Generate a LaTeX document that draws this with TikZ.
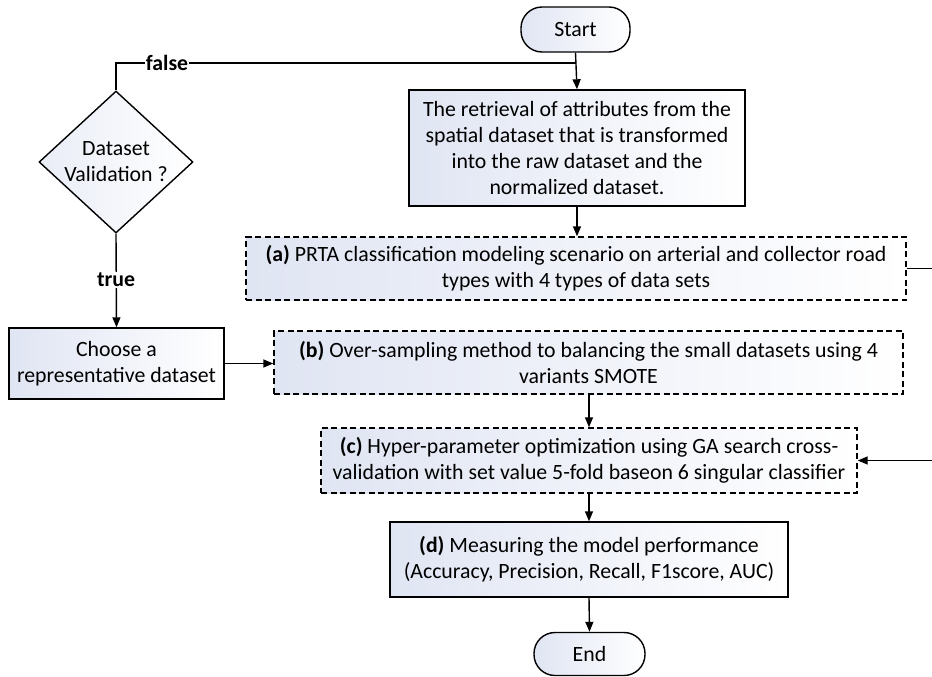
\documentclass[tikz,border=0pt]{standalone}
\usepackage{fontspec}
\setmainfont{Carlito}
\usetikzlibrary{shapes.geometric,arrows.meta}
\definecolor{boxshade}{RGB}{224,229,243}
\tikzset{
  txt/.style={font=\fontsize{21.8}{26}\selectfont, align=center, text=black},
  solidbox/.style={txt, draw=black, line width=1.4pt, rectangle, inner sep=0pt, left color=boxshade, right color=white},
  dashbox/.style={solidbox, dash pattern=on 6pt off 3.5pt},
  pill/.style={solidbox, rounded corners=21pt},
  decision/.style={diamond, draw=black, line width=1.4pt, inner sep=0pt, left color=boxshade!70, right color=white},
  conn/.style={line width=1.4pt, draw=black},
  arr/.style={conn, -{Triangle[length=10pt,width=8pt]}},
  lbl/.style={txt, font=\fontsize{21.8}{26}\selectfont\bfseries, fill=white, inner sep=1pt}
}
\begin{document}
\begin{tikzpicture}[x=1pt,y=-1pt]
\useasboundingbox (0,0) rectangle (932,677);
\node[pill, minimum width=109pt, minimum height=45pt] (start) at (575.5,29.5) {Start};
\node[solidbox, minimum width=336pt, minimum height=116pt] (ret) at (577,148)
  {The retrieval of attributes from the\\spatial dataset that is transformed\\into the raw dataset and the\\normalized dataset.};
\node[dashbox, minimum width=660pt, minimum height=63pt] (a) at (576,268.5)
  {\textbf{(a)} PRTA classification modeling scenario on arterial and collector road\\types with 4 types of data sets};
\node[dashbox, minimum width=629pt, minimum height=63pt] (b) at (588.5,362.5)
  {\textbf{(b)} Over-sampling method to balancing the small datasets using 4\\variants SMOTE};
\node[dashbox, minimum width=536pt, minimum height=65pt] (c) at (589,460.5)
  {\textbf{(c)} Hyper-parameter optimization using GA search cross-\\validation with set value 5-fold baseon 6 singular classifier};
\node[solidbox, minimum width=398pt, minimum height=75pt] (d) at (589,559.5)
  {\textbf{(d)} Measuring the model performance\\(Accuracy, Precision, Recall, F1score, AUC)};
\node[pill, minimum width=111pt, minimum height=43pt] (end) at (589.5,654) {End};
\node[decision, minimum width=154pt, minimum height=142pt] (dv) at (116,162) {};
\node[txt] (dvt) at (116,162) {Dataset\\Validation ?};
\node[solidbox, minimum width=215pt, minimum height=71pt] (choose) at (116.5,363.5)
  {Choose a\\representative dataset};
\coordinate (fj) at (575.5,63);
\coordinate (aout) at (932,268.5);
\coordinate (cin) at (932,460.5);
\draw[arr] (start.south) -- (ret.north);
\draw[conn] (dv.north) |- (fj);
\node[lbl] (flbl) at (167,63) {false};
\draw[arr] (ret.south) -- (ret.south |- a.north);
\draw[arr] (dv.south) -- (choose.north);
\node[lbl] (tlbl) at (116,280) {true};
\draw[arr] (choose.east) -- (choose.east -| b.west);
\draw[conn] (a.east) -- (aout);
\draw[arr] (cin) -- (c.east);
\draw[arr] (b.south -| c.north) -- (c.north);
\draw[arr] (c.south) -- (d.north);
\draw[arr] (d.south) -- (end.north);
\end{tikzpicture}
\end{document}
